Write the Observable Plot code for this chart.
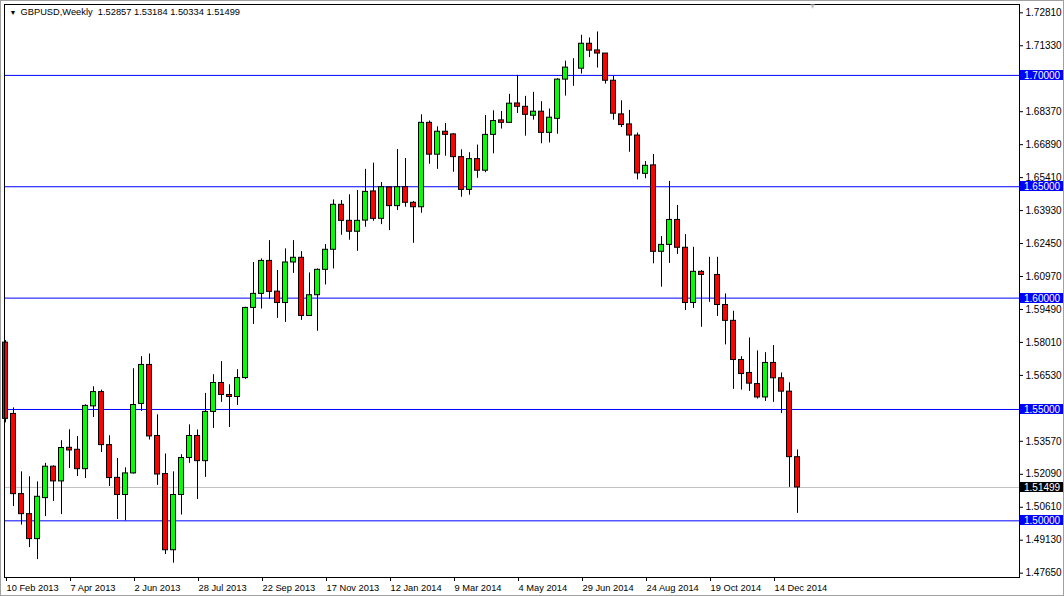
<!DOCTYPE html>
<html><head><meta charset="utf-8">
<script src="https://cdn.jsdelivr.net/npm/d3@7"></script>
<script src="https://cdn.jsdelivr.net/npm/@observablehq/plot@0.6"></script>
<style>
html,body{margin:0;padding:0;background:#fff;}
#chart svg{display:block;outline:1px solid #a0a0a0;outline-offset:-1px;}
</style></head><body><div id="chart"></div>
<script>
// Weekly GBPUSD candles, bar 0 = week of 10 Feb 2013
const opens = [1.5800,1.5480,1.5120,1.5030,1.4918,1.5102,1.5243,1.5177,1.5328,1.5319,
1.5232,1.5514,1.5578,1.5340,1.5193,1.5116,1.5213,1.5525,1.5700,1.5381,
1.5210,1.4868,1.5116,1.5282,1.5381,1.5268,1.5489,1.5619,1.5565,1.5556,
1.5641,1.5956,1.6019,1.6167,1.6029,1.5978,1.6160,1.6181,1.5920,1.6013,
1.6127,1.6217,1.6419,1.6347,1.6298,1.6348,1.6479,1.6356,1.6497,1.6413,
1.6498,1.6428,1.6408,1.6787,1.6644,1.6747,1.6735,1.6633,1.6486,1.6624,
1.6572,1.6733,1.6798,1.6787,1.6874,1.6859,1.6819,1.6837,1.6742,1.6805,
1.6981,1.7033,1.7030,1.7142,1.7112,1.7098,1.6976,1.6825,1.6780,1.6730,
1.6558,1.6596,1.6208,1.6239,1.6351,1.6226,1.5978,1.6118,1.6104,1.6104,
1.5969,1.5898,1.5722,1.5664,1.5614,1.5554,1.5709,1.5640,1.5580,1.52857];
const highs = [1.5809,1.5507,1.5220,1.5198,1.5175,1.5258,1.5247,1.5360,1.5409,1.5378,
1.5521,1.5602,1.5587,1.5382,1.5280,1.5238,1.5683,1.5737,1.5749,1.5476,
1.5300,1.5220,1.5297,1.5431,1.5408,1.5572,1.5656,1.5715,1.5611,1.5679,
1.5959,1.6160,1.6176,1.6258,1.6124,1.6221,1.6258,1.6209,1.6113,1.6131,
1.6240,1.6441,1.6438,1.6464,1.6483,1.6578,1.6606,1.6519,1.6498,1.6667,
1.6627,1.6434,1.6823,1.6795,1.6769,1.6784,1.6738,1.6666,1.6653,1.6687,
1.6820,1.6841,1.6838,1.6915,1.7000,1.6906,1.6924,1.6882,1.6849,1.6985,
1.7064,1.7075,1.7180,1.7168,1.7195,1.7098,1.6997,1.6886,1.6843,1.6741,
1.6613,1.6645,1.6276,1.6524,1.6416,1.6285,1.6228,1.6124,1.6183,1.6183,
1.6019,1.5941,1.5737,1.5821,1.5763,1.5755,1.5787,1.5664,1.5620,1.53184];
const lows = [1.5440,1.5064,1.4981,1.4880,1.4826,1.5019,1.5087,1.5028,1.5235,1.5199,
1.5190,1.5464,1.5307,1.5154,1.5006,1.5000,1.5210,1.5491,1.5363,1.5159,
1.4849,1.4810,1.5026,1.5258,1.5096,1.5195,1.5415,1.5532,1.5419,1.5518,
1.5635,1.5882,1.5951,1.5995,1.5909,1.5891,1.6111,1.5900,1.5918,1.5851,
1.6059,1.6131,1.6282,1.6260,1.6210,1.6318,1.6345,1.6330,1.6303,1.6393,
1.6408,1.6246,1.6381,1.6601,1.6578,1.6637,1.6565,1.6453,1.6462,1.6538,
1.6563,1.6648,1.6759,1.6786,1.6829,1.6727,1.6799,1.6693,1.6697,1.6736,
1.6907,1.6951,1.7006,1.7080,1.7033,1.6961,1.6799,1.6766,1.6655,1.6531,
1.6536,1.6154,1.6049,1.6156,1.6196,1.5944,1.5954,1.5869,1.5981,1.5918,
1.5790,1.5590,1.5587,1.5581,1.5547,1.5536,1.5532,1.5482,1.5150,1.50334];
const closes = [1.5458,1.5120,1.5030,1.4918,1.5108,1.5243,1.5177,1.5327,1.5316,1.5232,
1.5516,1.5578,1.5340,1.5192,1.5116,1.5213,1.5520,1.5700,1.5379,1.5208,
1.4868,1.5116,1.5282,1.5381,1.5268,1.5489,1.5619,1.5565,1.5556,1.5641,
1.5956,1.6019,1.6167,1.6028,1.5978,1.6160,1.6181,1.5920,1.6013,1.6127,
1.6217,1.6419,1.6347,1.6298,1.6347,1.6477,1.6356,1.6498,1.6413,1.6498,
1.6428,1.6408,1.6787,1.6644,1.6747,1.6733,1.6633,1.6486,1.6624,1.6572,
1.6733,1.6795,1.6787,1.6873,1.6859,1.6823,1.6837,1.6742,1.6810,1.6981,
1.7035,1.7033,1.7142,1.7111,1.7098,1.6976,1.6828,1.6777,1.6730,1.6560,
1.6594,1.6208,1.6239,1.6351,1.6226,1.5978,1.6118,1.6104,1.6104,1.5969,
1.5898,1.5722,1.5659,1.5616,1.5554,1.5709,1.5640,1.5580,1.5286,1.51499];

const levels = [1.70, 1.65, 1.60, 1.55, 1.50];
const lastPrice = 1.51499;
const yTicks = [1.72810,1.71330,1.68370,1.66890,1.65410,1.63930,1.62450,1.60970,
  1.59490,1.58010,1.56530,1.53570,1.52090,1.50610,1.49130,1.47650];
const xTickBars = [0,8,16,24,32,40,48,56,64,72,80,88,96];
const xTickLabels = ["10 Feb 2013","7 Apr 2013","2 Jun 2013","28 Jul 2013","22 Sep 2013",
  "17 Nov 2013","12 Jan 2014","9 Mar 2014","4 May 2014","29 Jun 2014","24 Aug 2014",
  "19 Oct 2014","14 Dec 2014"];
const titleText = "GBPUSD,Weekly \u00a01.52857 1.53184 1.50334 1.51499";

const bars = opens.map((o, i) => ({i, o, h: highs[i], l: lows[i], c: closes[i]}));
const FONT = "Liberation Sans, Arial, sans-serif";

function priceBoxes(index, scales, values, dimensions) {
  const g = d3.create("svg:g").attr("font-family", FONT).attr("font-size", 10)
    .attr("text-anchor", "start");
  const x0 = dimensions.width - dimensions.marginRight + 1;
  const items = levels.map(v => ({v, fill: "#0000ff"})).concat([{v: lastPrice, fill: "#000000"}]);
  for (const it of items) {
    const y = Math.round(scales.y(it.v));
    g.append("rect").attr("x", x0).attr("y", y - 5).attr("width", 43).attr("height", 10).attr("fill", it.fill);
    g.append("text").attr("x", x0 + 4).attr("y", y).attr("dy", "0.35em")
      .attr("text-anchor", "start").attr("fill", "#ffffff").text(it.v.toFixed(5));
  }
  return g.node();
}

const chart = Plot.plot({
  width: 1064,
  height: 596,
  marginLeft: 4,
  marginRight: 45,
  marginTop: 4,
  marginBottom: 19,
  style: {fontFamily: FONT, background: "#ffffff", color: "#000"},
  x: {type: "linear", domain: [-0.125, 126.75], axis: null},
  y: {domain: [1.47456, 1.73183], axis: null},
  marks: [
    Plot.ruleY(levels, {stroke: "#0000ff", strokeWidth: 1}),
    Plot.ruleY([lastPrice], {stroke: "#c0c0c0", strokeWidth: 1}),
    Plot.ruleX(bars, {x: "i", y1: "l", y2: "h", stroke: "#000", strokeWidth: 1}),
    Plot.rect(bars, {
      x1: d => d.i - 0.3125, x2: d => d.i + 0.3125,
      y1: "o", y2: "c",
      fill: d => d.c > d.o ? "#00ff00" : d.c < d.o ? "#ff0000" : "#000000",
      stroke: "#000", strokeWidth: 1
    }),
    Plot.frame({stroke: "#000"}),
    Plot.axisY(yTicks, {anchor: "right", tickSize: 3, tickPadding: 3, fontSize: 10,
      tickFormat: d => d.toFixed(5), label: null, stroke: "#000"}),
    Plot.axisX(xTickBars, {anchor: "bottom", tickSize: 4, tickPadding: 3, fontSize: 9.3,
      textAnchor: "start", dx: 1, tickFormat: d => xTickLabels[xTickBars.indexOf(d)],
      label: null, stroke: "#000"}),
    priceBoxes,
    Plot.text([titleText], {frameAnchor: "top-left", text: d => d, dx: 16, dy: 8,
      textAnchor: "start", lineAnchor: "middle", fontSize: 9.3, fill: "#000"}),
    Plot.text(["\u25BC"], {frameAnchor: "top-left", text: d => d, dx: 5, dy: 8,
      textAnchor: "start", lineAnchor: "middle", fontSize: 7, fill: "#000"}),
    Plot.text(["\u25BC"], {frameAnchor: "top-right", text: d => d, dx: -207, dy: 2,
      textAnchor: "middle", lineAnchor: "middle", fontSize: 8, fill: "#c8c8c8"})
  ]
});
document.getElementById("chart").appendChild(chart);
</script></body></html>
